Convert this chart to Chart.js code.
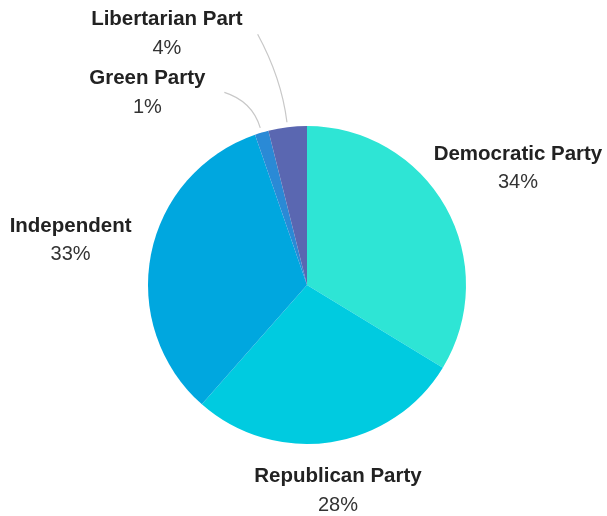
<!DOCTYPE html>
<html>
<head>
<meta charset="utf-8">
<script src="https://cdn.jsdelivr.net/npm/chart.js@4/dist/chart.umd.min.js"></script>
<style>
html,body{margin:0;padding:0;background:#fff;}
#wrap{width:607px;height:516px;position:relative;}
</style>
</head>
<body>
<div id="wrap"><canvas id="c" width="607" height="516"></canvas></div>
<script>
const categories = ["Democratic Party", "Republican Party", "Independent", "Green Party", "Libertarian Part"];
const shares = [33.7, 27.8, 33.2, 1.4, 3.9];
const percentLabels = ["34%", "28%", "33%", "1%", "4%"];

const sliceColors = ["#2EE5D5", "#00CBE0", "#00A7DF", "#2A8AD6", "#5A67B1"];
// label placement (style): polar distance from centre and optional fixed angle (deg, clockwise from top)
const labelPlacement = [
  {r: 242},
  {r: 206},
  {r: 241},
  {r: 251, a: 320.5, leader: true, bend: 0.75},
  {r: 289, a: 331, leader: true, bend: 0.5}
];

const NAME_FONT = 'bold 20.5px "Liberation Sans", Arial, sans-serif';
const PCT_FONT = '20px "Liberation Sans", Arial, sans-serif';

const labelPlugin = {
  id: 'outLabels',
  afterDatasetsDraw(chart) {
    const ctx = chart.ctx;
    const meta = chart.getDatasetMeta(0);
    meta.data.forEach((arc, i) => {
      const cx = arc.x, cy = arc.y, R = arc.outerRadius;
      const mid = (arc.startAngle + arc.endAngle) / 2;
      const p = labelPlacement[i];
      let ang = mid;
      if (p.a !== undefined) ang = (p.a - 90) * Math.PI / 180;
      const lx = cx + p.r * Math.cos(ang);
      const ly = cy + p.r * Math.sin(ang);
      ctx.save();
      ctx.font = NAME_FONT;
      const w = ctx.measureText(categories[i]).width;
      if (p.leader) {
        const sx = cx + (R + 5) * Math.cos(mid);
        const sy = cy + (R + 5) * Math.sin(mid);
        let ex, ey;
        if (i === 3) { ex = lx + 77; ey = ly + 1; }
        else { ex = lx + w / 2 + 15; ey = ly + 2; }
        const t = (sy - ey) * p.bend;
        const qx = sx + Math.cos(mid) * t / Math.abs(Math.sin(mid));
        const qy = sy - t;
        ctx.strokeStyle = '#c8c8c8';
        ctx.lineWidth = 1.2;
        ctx.beginPath();
        ctx.moveTo(sx, sy);
        ctx.quadraticCurveTo(qx, qy, ex, ey);
        ctx.stroke();
      }
      ctx.textAlign = 'center';
      ctx.textBaseline = 'middle';
      ctx.fillStyle = '#222';
      ctx.font = NAME_FONT;
      ctx.fillText(categories[i], lx, ly - 12.5);
      ctx.fillStyle = '#333';
      ctx.font = PCT_FONT;
      ctx.fillText(percentLabels[i], lx, ly + 16.5);
      ctx.restore();
    });
  }
};

new Chart(document.getElementById('c'), {
  type: 'pie',
  data: {
    labels: categories,
    datasets: [{
      data: shares,
      backgroundColor: sliceColors,
      borderWidth: 0,
      hoverOffset: 0
    }]
  },
  options: {
    responsive: false,
    animation: false,
    events: [],
    layout: { padding: { top: 126, bottom: 72, left: 148, right: 141 } },
    plugins: { legend: { display: false }, tooltip: { enabled: false } }
  },
  plugins: [labelPlugin]
});
</script>
</body>
</html>
